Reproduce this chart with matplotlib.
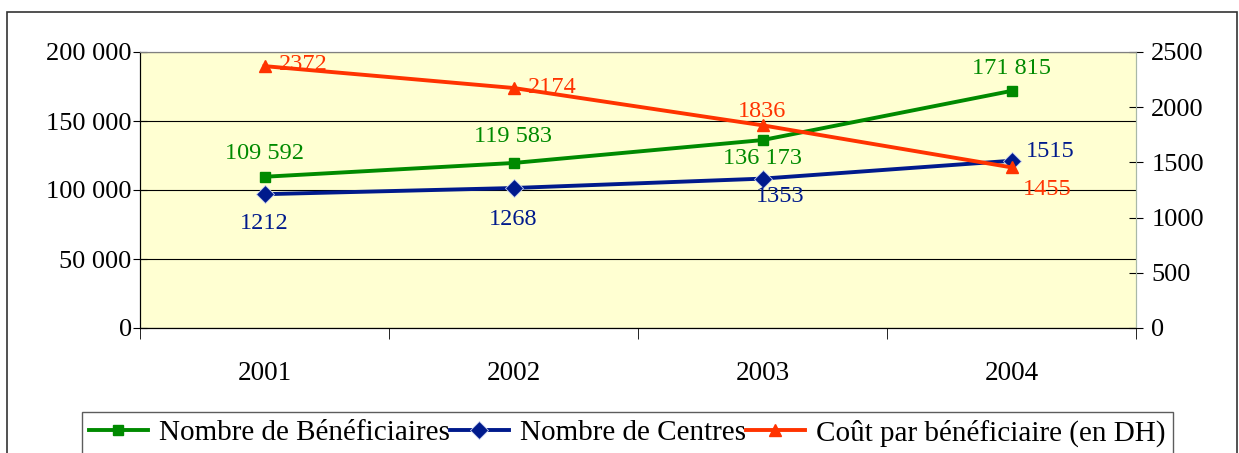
import matplotlib
matplotlib.use("Agg")
import matplotlib.pyplot as plt
from matplotlib.patches import Rectangle
from matplotlib.ticker import FuncFormatter, FixedLocator

plt.rcParams['font.family'] = ['Liberation Serif', 'DejaVu Serif']

years = ['2001', '2002', '2003', '2004']
beneficiaires = [109592, 119583, 136173, 171815]
centres = [1212, 1268, 1353, 1515]
cout = [2372, 2174, 1836, 1455]

left_ticks = [0, 50000, 100000, 150000, 200000]
right_ticks = [0, 500, 1000, 1500, 2000, 2500]

green = '#008a00'
navy = '#001a8c'
red = '#ff3300'

W, H = 1239, 453
fig = plt.figure(figsize=(W / 100, H / 100), dpi=100)
fig.patches.append(Rectangle((7 / W, -0.1), 1230 / W, 1.1 - 12 / H, transform=fig.transFigure,
                             fill=False, edgecolor='#333333', linewidth=1.2))

ax = fig.add_axes([140 / W, 1 - 328 / H, 996 / W, 276 / H])
ax2 = ax.twinx()
ax.set_facecolor('#ffffd2')
ax.set_zorder(0)
ax2.set_zorder(1)
ax2.patch.set_visible(False)

x = list(range(len(years)))
l1, = ax.plot(x, beneficiaires, color=green, lw=2.8, marker='s', ms=7, zorder=3)
l2, = ax2.plot(x, centres, color=navy, lw=2.8, marker='D', ms=9, mec='#c8d0f0', mew=0.6, zorder=3)
l3, = ax2.plot(x, cout, color=red, lw=2.8, marker='^', ms=8, zorder=4)

ax.set_xlim(-0.5, 3.5)
ax.set_ylim(0, 200000)
ax2.set_ylim(0, 2500)
ax.set_yticks(left_ticks)
ax2.set_yticks(right_ticks)
ax.yaxis.set_major_formatter(FuncFormatter(lambda v, p: f"{int(v):,}".replace(',', ' ')))
ax.grid(axis='y', color='black', lw=0.8)
ax.set_axisbelow(True)

ax.set_xticks(x)
ax.set_xticklabels(years)
ax.xaxis.set_minor_locator(FixedLocator([-0.5, 0.5, 1.5, 2.5, 3.5]))
ax.tick_params(axis='x', which='major', length=0, pad=24, labelsize=19.5)
ax.tick_params(axis='x', which='minor', length=8, direction='out', color='black')
ax.tick_params(axis='y', length=10, direction='inout', labelsize=19, pad=1)
ax2.tick_params(axis='y', length=10, direction='inout', labelsize=19, pad=6)
for a in (ax, ax2):
    a.spines['top'].set_color('#808080')
    a.spines['left'].set_color('black')
    a.spines['bottom'].set_color('black')
    a.spines['right'].set_color('#a8b8a8')

fs = 17.5
b_off = [(0, 17), (0, 19), (0, -13), (0, 16)]
for i, v in enumerate(beneficiaires):
    ax.annotate(f"{v:,}".replace(',', ' '), (i, v), xytext=b_off[i], textcoords='offset points',
                ha='center', va='center', color=green, fontsize=fs)
c_off = [(0, -21), (0, -23), (13, -13), (28, 7)]
for i, v in enumerate(centres):
    ax2.annotate(str(v), (i, v), xytext=c_off[i], textcoords='offset points',
                 ha='center', va='center', color=navy, fontsize=fs)
r_off = [(28, 1), (28, 0), (0, 10), (26, -16)]
for i, v in enumerate(cout):
    ax2.annotate(str(v), (i, v), xytext=r_off[i], textcoords='offset points',
                 ha='center', va='center', color=red, fontsize=fs)

leg = fig.legend([l1, l2, l3], ['Nombre de Bénéficiaires', 'Nombre de Centres', 'Coût par bénéficiaire (en DH)'],
                 ncol=3, loc='upper left', bbox_to_anchor=(82 / W, 1 - 412 / H),
                 frameon=True, fancybox=False, edgecolor='#333333', fontsize=21,
                 handlelength=2.0, handletextpad=0.4, columnspacing=0.0, borderpad=0.25,
                 borderaxespad=0)
leg.get_frame().set_linewidth(1.0)

fig.savefig('out.png', dpi=100)
